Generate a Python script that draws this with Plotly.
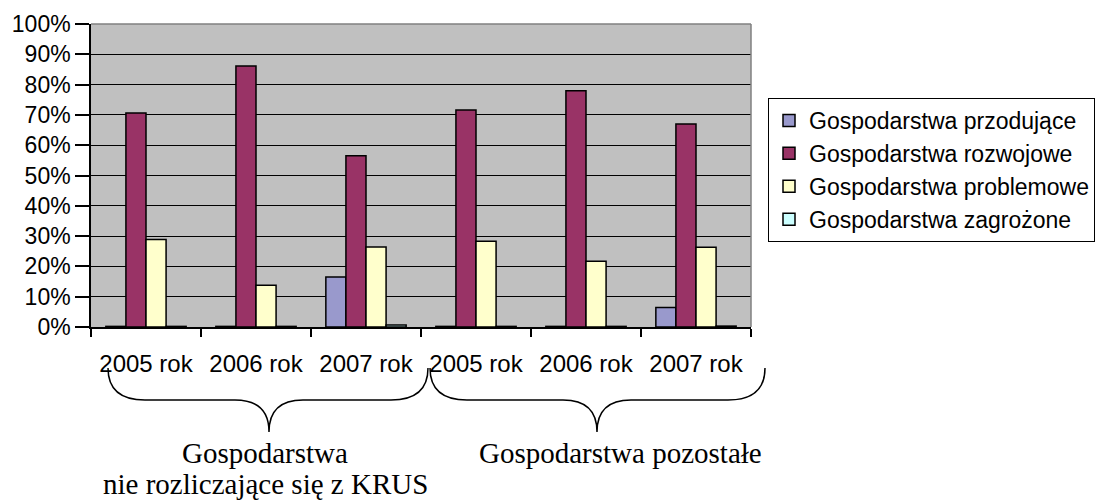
import plotly.graph_objects as go

# Categories: two groups of farms, three years each
years = ["2005 rok", "2006 rok", "2007 rok", "2005 rok", "2006 rok", "2007 rok"]
group_labels = ["Gospodarstwa", "nie rozliczające się z KRUS", "Gospodarstwa pozostałe"]

series_names = [
    "Gospodarstwa przodujące",
    "Gospodarstwa rozwojowe",
    "Gospodarstwa problemowe",
    "Gospodarstwa zagrożone",
]
przodujace = [0.2, 0.2, 16.5, 0.2, 0.2, 6.4]
rozwojowe = [70.6, 86.1, 56.5, 71.6, 78.0, 67.0]
problemowe = [28.9, 13.8, 26.4, 28.3, 21.7, 26.3]
zagrozone = [0.2, 0.2, 0.7, 0.2, 0.2, 0.3]

colors = ["#9999CC", "#993366", "#FFFFCC", "#CCFFFF"]

# plot area in pixels (for decorations below the axis)
W, H = 1109, 502
L, R, T, B = 91, 751, 24, 327


def px(x, y):
    return (x - L) / (R - L), (B - y) / (B - T)


def brace(x0, xm, x1, ytop=368, ymid=400, ytip=432):
    pts = [
        ("M", [(x0, ytop)]),
        ("Q", [(x0, ymid), (x0 + 37, ymid)]),
        ("L", [(xm - 34, ymid)]),
        ("Q", [(xm, ymid), (xm, ytip)]),
        ("Q", [(xm, ymid), (xm + 34, ymid)]),
        ("L", [(x1 - 37, ymid)]),
        ("Q", [(x1, ymid), (x1, ytop)]),
    ]
    path = ""
    for cmd, coords in pts:
        path += cmd + " " + " ".join("%.5f,%.5f" % px(cx, cy) for cx, cy in coords) + " "
    return path.strip()


x = list(range(len(years)))
fig = go.Figure()
for name, vals, col in zip(series_names, [przodujace, rozwojowe, problemowe, zagrozone], colors):
    fig.add_trace(go.Bar(
        x=x, y=vals, name=name, legendgroup=name,
        marker=dict(color=col, line=dict(color="black", width=1.5)),
    ))

fig.update_layout(
    width=W, height=H,
    margin=dict(l=L, r=W - R, t=T, b=H - B),
    paper_bgcolor="white",
    plot_bgcolor="#C0C0C0",
    barmode="group",
    bargap=0.27,
    bargroupgap=0,
    font=dict(family="Liberation Sans, Arial", size=23, color="black"),
    showlegend=True,
    legend=dict(
        x=px(768, 0)[0], y=px(0, 98)[1], xanchor="left", yanchor="top",
        bordercolor="black", borderwidth=1, bgcolor="white",
        font=dict(size=23), tracegroupgap=0,
    ),
)

fig.update_yaxes(
    range=[0, 100], dtick=10, ticksuffix="%",
    showgrid=True, gridcolor="black", gridwidth=1.3,
    zeroline=False, showline=True, linecolor="black", linewidth=1.5,
    ticks="outside", ticklen=14, tickwidth=1.5, tickcolor="black",
    tickfont=dict(size=23),
)
fig.update_xaxes(
    range=[-0.5, 5.5], tickvals=x, ticktext=years, ticks="",
    tickfont=dict(size=24), ticklabelstandoff=14,
    showgrid=False, zeroline=False, showline=True, linecolor="black", linewidth=1.5,
    minor=dict(tickvals=[i - 0.5 for i in range(len(years) + 1)], ticks="outside",
               ticklen=8, tickwidth=1.5, tickcolor="black", showgrid=False),
)

# gray top / right border of the plot area
fig.add_shape(type="line", xref="paper", yref="paper", x0=0, y0=1, x1=1, y1=1,
              line=dict(color="#808080", width=1.5), layer="above")
fig.add_shape(type="line", xref="paper", yref="paper", x0=1, y0=0, x1=1, y1=1,
              line=dict(color="#808080", width=1.5), layer="above")

# braces under the year labels
for x0, xm, x1 in [(108, 269, 428), (430, 597, 765)]:
    fig.add_shape(type="path", xref="paper", yref="paper", path=brace(x0, xm, x1),
                  line=dict(color="black", width=1.5))

serif = dict(family="Liberation Serif, Times New Roman", size=29, color="black")
for (cx, cy), text in zip([(265, 453), (265, 484), (620, 453)], group_labels):
    ax, ay = px(cx, cy)
    fig.add_annotation(x=ax, y=ay, xref="paper", yref="paper", text=text,
                       showarrow=False, font=serif, xanchor="center", yanchor="middle",
                       borderpad=0)

fig.write_html("out.html", config={"displayModeBar": False},
               post_script="document.body.style.margin='0';")
